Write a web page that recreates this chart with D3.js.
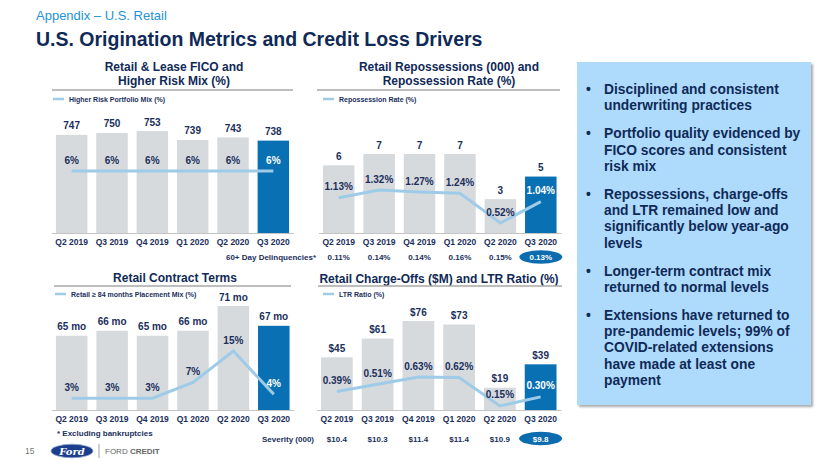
<!DOCTYPE html>
<html><head><meta charset="utf-8">
<script src="https://cdn.jsdelivr.net/npm/d3@7"></script>
<style>body{margin:0;background:#fff}svg{display:block;font-family:"Liberation Sans",Arial,sans-serif}</style>
</head><body><svg id="c" width="830" height="467"></svg>
<script>
// ---- data ----
const quarters = ["Q2 2019","Q3 2019","Q4 2019","Q1 2020","Q2 2020","Q3 2020"];
const fico = [747,750,753,739,743,738];
const higherRiskMix = [6,6,6,6,6,6];
const repossessions = [6,7,7,7,3,5];
const repoRate = [1.13,1.32,1.27,1.24,0.52,1.04];
const delinquencies = [0.11,0.14,0.14,0.16,0.15,0.13];
const contractTerms = [65,66,65,66,71,67];
const placement84 = [3,3,3,7,15,4];
const chargeOffs = [45,61,76,73,19,39];
const ltrRatio = [0.39,0.51,0.63,0.62,0.15,0.30];
const severity = [10.4,10.3,11.4,11.4,10.9,9.8];
const bullets = [
  ["Disciplined and consistent","underwriting practices"],
  ["Portfolio quality evidenced by","FICO scores and consistent","risk mix"],
  ["Repossessions, charge-offs","and LTR remained low and","significantly below year-ago","levels"],
  ["Longer-term contract mix","returned to normal levels"],
  ["Extensions have returned to","pre-pandemic levels; 99% of","COVID-related extensions","have made at least one","payment"]
];

// ---- style ----
const FONT = '"Liberation Sans", Arial, sans-serif';
const NAVY = "#1b2f5c", TITLE = "#0f2a57", GRAY = "#d7dadd", BLUE = "#0a70b4", LINE = "#9ecbe8";
const svg = d3.select("#c");

svg.append("text").attr("x",36).attr("y",19.6).attr("font-size",13).attr("fill","#2493d4").text("Appendix – U.S. Retail");
svg.append("text").attr("x",36).attr("y",46).attr("font-size",19.5).attr("font-weight","bold").attr("fill",TITLE).text("U.S. Origination Metrics and Credit Loss Drivers");

function panel(o){
  const g = svg.append("g");
  o.title.forEach((t,i)=> g.append("text").attr("x",o.titleX).attr("y",o.titleY+i*14)
    .attr("text-anchor","middle").attr("font-size",12).attr("font-weight","bold").attr("fill",TITLE).text(t));
  g.append("line").attr("x1",o.sep[0]).attr("x2",o.sep[1]).attr("y1",o.sepY).attr("y2",o.sepY)
    .attr("stroke","#a9a9a9").attr("stroke-width",1.5);
  g.append("line").attr("x1",o.legX).attr("x2",o.legX+11).attr("y1",o.legY).attr("y2",o.legY)
    .attr("stroke",LINE).attr("stroke-width",2.5);
  g.append("text").attr("x",o.legX+16).attr("y",o.legY+2.5).attr("font-size",7).attr("font-weight","bold")
    .attr("fill",NAVY).text(o.legend);

  const x = d3.scaleBand().domain(quarters).range(o.xr).paddingInner(0.22).paddingOuter(0.11);
  const y = d3.scaleLinear().domain(o.yd).range([o.base,o.yTop]);
  const yl = d3.scaleLinear().domain(o.ld).range(o.lr);
  const cx = i => x(quarters[i]) + x.bandwidth()/2;

  g.selectAll("rect.bar").data(o.bars).join("rect").attr("class","bar")
    .attr("x",(d,i)=>x(quarters[i])).attr("width",x.bandwidth())
    .attr("y",d=>y(d)).attr("height",d=>o.base-y(d))
    .attr("fill",(d,i)=>i===5?BLUE:GRAY);

  const ax = g.append("g").attr("transform",`translate(0,${o.base})`)
    .call(d3.axisBottom(x).tickSize(0).tickPadding(6).tickSizeOuter(0));
  ax.attr("font-family",FONT).attr("font-size",8.5).attr("font-weight","bold");
  ax.select(".domain").attr("stroke","#c4c4c4");
  ax.selectAll("text").attr("fill",NAVY);

  g.append("path").datum(o.line)
    .attr("d",d3.line().x((d,i)=>cx(i)).y(d=>yl(d)))
    .attr("fill","none").attr("stroke",LINE).attr("stroke-width",3);

  g.selectAll("text.val").data(o.bars).join("text").attr("class","val")
    .attr("x",(d,i)=>cx(i)).attr("y",d=>y(d)-5.5).attr("text-anchor","middle")
    .attr("font-size",10).attr("font-weight","bold").attr("fill",NAVY).text(o.barFmt);
  g.selectAll("text.lval").data(o.line).join("text").attr("class","lval")
    .attr("x",(d,i)=>cx(i)).attr("y",d=>yl(d)-7.5).attr("text-anchor","middle")
    .attr("font-size",10).attr("font-weight","bold").attr("fill",(d,i)=>i===5?"#ffffff":NAVY).text(o.lineFmt);

  if(o.row){
    g.append("text").attr("x",o.row.labelX).attr("y",o.row.y+3).attr("text-anchor","end")
      .attr("font-size",8).attr("font-weight","bold").attr("fill",NAVY).text(o.row.label);
    g.append("ellipse").attr("cx",cx(5)).attr("cy",o.row.y).attr("rx",21.5).attr("ry",6.8).attr("fill","#0c6cb0");
    g.selectAll("text.row").data(o.row.values).join("text").attr("class","row")
      .attr("x",(d,i)=>cx(i)).attr("y",o.row.y+3).attr("text-anchor","middle")
      .attr("font-size",8).attr("font-weight","bold").attr("fill",(d,i)=>i===5?"#ffffff":NAVY).text(o.row.fmt);
  }
}

panel({title:["Retail & Lease FICO and","Higher Risk Mix (%)"],titleX:174,titleY:71.3,
  sep:[52,293],sepY:90,legX:53,legY:99,legend:"Higher Risk Portfolio Mix (%)",
  xr:[51.5,293.5],base:233,yd:[594,753],yTop:131,ld:[0,6],lr:[233,171],
  bars:fico,line:higherRiskMix,barFmt:d=>d,lineFmt:d=>d+"%"});

panel({title:["Retail Repossessions (000) and","Repossession Rate (%)"],titleX:449,titleY:71.3,
  sep:[317,560],sepY:90,legX:323,legY:99,legend:"Repossession Rate (%)",
  xr:[318.5,561],base:233,yd:[0,7],yTop:154,ld:[0,1.32],lr:[244.5,190],
  bars:repossessions,line:repoRate,barFmt:d=>d,lineFmt:d=>d.toFixed(2)+"%",
  row:{label:"60+ Day Delinquencies*",labelX:316,y:257,values:delinquencies,fmt:d=>d.toFixed(2)+"%"}});

panel({title:["Retail Contract Terms"],titleX:175,titleY:282.3,
  sep:[54,291],sepY:286,legX:55,legY:294,legend:"Retail ≥ 84 months Placement Mix (%)",
  xr:[51.5,294],base:410,yd:[50,71],yTop:306,ld:[0,15],lr:[410,351],
  bars:contractTerms,line:placement84,barFmt:d=>d+" mo",lineFmt:d=>d+"%"});

panel({title:["Retail Charge-Offs ($M) and LTR Ratio (%)"],titleX:439,titleY:283.3,
  sep:[318,562],sepY:286,legX:323,legY:294,legend:"LTR Ratio (%)",
  xr:[316.5,561],base:410,yd:[0,76],yTop:321,ld:[0,0.63],lr:[415,377],
  bars:chargeOffs,line:ltrRatio,barFmt:d=>"$"+d,lineFmt:d=>d.toFixed(2)+"%",
  row:{label:"Severity (000)",labelX:314,y:438.5,values:severity,fmt:d=>"$"+d.toFixed(1)}});

svg.append("text").attr("x",57).attr("y",436).attr("font-size",8).attr("font-weight","bold").attr("fill",NAVY).text("* Excluding bankruptcies");

// bullet box
const defs = svg.append("defs");
const f = defs.append("filter").attr("id","sh").attr("x","-5%").attr("y","-5%").attr("width","115%").attr("height","115%");
f.append("feDropShadow").attr("dx",2).attr("dy",2).attr("stdDeviation",1.2).attr("flood-color","#888").attr("flood-opacity",0.7);
svg.append("rect").attr("x",577).attr("y",62).attr("width",234).attr("height",343).attr("fill","#aedafc").attr("filter","url(#sh)");
let yy = 89;
bullets.forEach(b=>{
  svg.append("text").attr("x",586).attr("y",yy+5).attr("font-size",13.8).attr("font-weight","bold").attr("fill",TITLE).text("•");
  b.forEach((t,i)=>{
    svg.append("text").attr("x",604).attr("y",yy+5).attr("font-size",13.8).attr("font-weight","bold").attr("fill",TITLE).text(t);
    if(i<b.length-1) yy += 16.4;
  });
  yy += 27.7;
});

// footer
svg.append("text").attr("x",25).attr("y",454).attr("font-size",8.5).attr("fill","#777").text("15");
svg.append("ellipse").attr("cx",72).attr("cy",451).attr("rx",21).attr("ry",6.8).attr("fill","#1b3f8e").attr("stroke","#8ea3cc").attr("stroke-width",0.8);
svg.append("text").attr("x",72).attr("y",454.5).attr("text-anchor","middle").attr("font-size",10).attr("font-style","italic").attr("font-weight","bold").attr("font-family","DejaVu Serif, serif").attr("fill","#fff").text("Ford");
svg.append("line").attr("x1",99).attr("x2",99).attr("y1",444).attr("y2",458).attr("stroke","#888").attr("stroke-width",0.8);
const fc = svg.append("text").attr("x",105).attr("y",454).attr("font-size",8).attr("fill","#666");
fc.append("tspan").text("FORD ");
fc.append("tspan").attr("font-weight","bold").text("CREDIT");
</script></body></html>
